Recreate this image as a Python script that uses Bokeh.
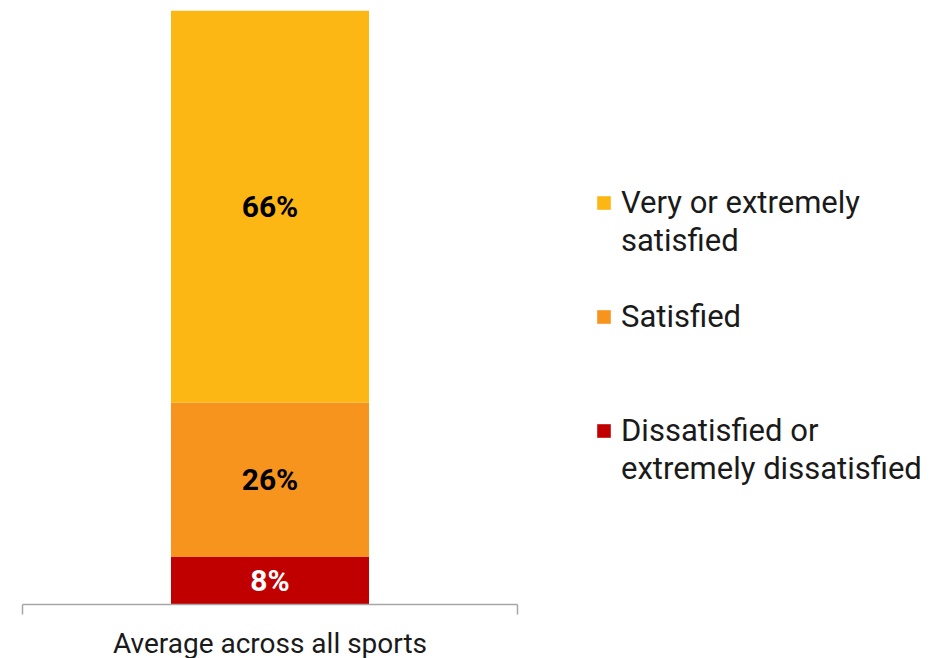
from bokeh.plotting import figure
from bokeh.models import ColumnDataSource, Legend, LegendItem, FixedTicker, Range1d, LinearAxis
from bokeh.core.properties import value
from bokeh.embed import file_html
from bokeh.resources import INLINE

categories = ["Average across all sports"]
series = ["Dissatisfied or extremely dissatisfied", "Satisfied", "Very or extremely satisfied"]
values = [8, 26, 66]
colors = ["#C00000", "#F7941D", "#FCB714"]
label_colors = ["#FFFFFF", "#000000", "#000000"]
# legend text lines, top to bottom: (text, series index or None for a continuation / gap line)
legend_lines = [
    ("Very or extremely", 2), ("satisfied", None), (" ", None),
    ("Satisfied", 1), (" ", None), (" ", None),
    ("Dissatisfied or", 0), ("extremely dissatisfied", None),
]

FONT = "Roboto"
TEXT = "#1A1A1A"

bottoms, tops = [], []
acc = 0
for v in values:
    bottoms.append(acc)
    acc += v
    tops.append(acc)

n = len(categories)
centres = [i + 0.5 for i in range(n)]
src = ColumnDataSource(dict(
    x=[centres[0]] * len(values), bottom=bottoms, top=tops,
    mid=[(b + t) / 2 for b, t in zip(bottoms, tops)],
    txt=[f"{v}%" for v in values], tcolor=label_colors,
))

# frame covers the whole width; the category slot occupies the left 495 px of it
p = figure(frame_width=921, frame_height=594, output_backend="svg", toolbar_location=None,
           x_range=Range1d(0, n * 921 / 495), y_range=Range1d(0, 100),
           min_border_left=22, min_border_right=0, min_border_top=10, min_border_bottom=54)
p.outline_line_color = None
p.xgrid.visible = False
p.ygrid.visible = False
p.yaxis.visible = False

renderers = []
for i in range(len(values)):
    r = p.vbar(x=[centres[0]], bottom=[bottoms[i]], top=[tops[i]], width=0.4,
               fill_color=colors[i], line_color=None)
    renderers.append(r)
blank = p.vbar(x=[], top=[], width=0.4, fill_alpha=0, line_alpha=0)

p.text(x="x", y="mid", text="txt", source=src, text_color="tcolor",
       text_align="center", text_baseline="middle", text_font=value(FONT),
       text_font_size="30px", text_font_style="bold")

# axis line with ticks at the category edges
ax = p.xaxis[0]
ax.bounds = (0, n)
ax.ticker = FixedTicker(ticks=list(range(n + 1)))
ax.major_label_overrides = {i: "" for i in range(n + 1)}
ax.major_label_text_font_size = "1px"
ax.major_label_standoff = 0
ax.major_tick_in = 0
ax.major_tick_out = 10
ax.minor_tick_line_color = None
ax.axis_line_color = "#A6A6A6"
ax.major_tick_line_color = "#A6A6A6"
ax.axis_line_width = 1.5
ax.major_tick_line_width = 1.5

# category names centred under each slot
cat_ax = LinearAxis(ticker=FixedTicker(ticks=centres),
                    major_label_overrides={c: name for c, name in zip(centres, categories)})
cat_ax.axis_line_color = None
cat_ax.major_tick_line_color = None
cat_ax.minor_tick_line_color = None
cat_ax.major_tick_in = 0
cat_ax.major_tick_out = 0
cat_ax.major_label_standoff = 12
cat_ax.major_label_text_font = FONT
cat_ax.major_label_text_font_size = "28px"
cat_ax.major_label_text_color = TEXT
p.add_layout(cat_ax, "below")

items = [LegendItem(label=t, renderers=[renderers[s] if s is not None else blank])
         for t, s in legend_lines]
legend = Legend(items=items, location=(573, 117))
legend.label_text_font = FONT
legend.label_text_font_size = "31px"
legend.label_text_color = TEXT
legend.glyph_width = 17
legend.glyph_height = 17
legend.label_height = 38
legend.label_standoff = 9
legend.spacing = 0
legend.border_line_color = None
legend.background_fill_alpha = 0
legend.padding = 0
legend.margin = 0
p.add_layout(legend, "center")

open("out.html", "w").write(file_html(p, INLINE))
